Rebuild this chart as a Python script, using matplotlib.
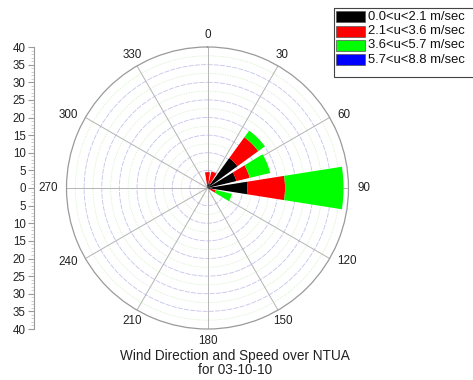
import numpy as np
import matplotlib
matplotlib.use("Agg")
import matplotlib.pyplot as plt
from matplotlib.patches import Rectangle

plt.rcParams['font.family'] = ['Liberation Sans', 'DejaVu Sans']

# Wind rose data: direction sectors (deg) and frequency per speed class
directions = [0.0, 22.5, 45.0, 67.5, 90.0, 112.5]
calm = [0.9, 1.4, 10.5, 8.4, 11.3, 0.9]          # 0.0<u<2.1
light = [3.6, 3.4, 7.3, 3.9, 10.7, 1.5]          # 2.1<u<3.6
moderate = [0.0, 0.0, 2.3, 6.0, 16.6, 4.7]       # 3.6<u<5.7
fresh = [0.0, 0.0, 0.0, 0.0, 0.0, 0.0]           # 5.7<u<8.8

class_labels = ['0.0<u<2.1 m/sec', '2.1<u<3.6 m/sec',
                '3.6<u<5.7 m/sec', '5.7<u<8.8 m/sec']
class_colors = ['#000000', '#ff0000', '#00ff00', '#0000ff']
angle_ticks = list(range(0, 360, 30))
radial_ticks = list(range(-40, 41, 5))

W, H = 473, 380
fig = plt.figure(figsize=(W / 100, H / 100), dpi=100)

# polar area geometry in pixels
cx, cy, R = 207.5, 188.0, 141.0
RMAX = 40.0
k = R / RMAX

ax = fig.add_axes([(cx - R) / W, (H - cy - R) / H, 2 * R / W, 2 * R / H],
                  projection='polar')
ax.set_theta_zero_location('N')
ax.set_theta_direction(-1)
ax.set_ylim(0, RMAX)
ax.grid(False)
ax.set_yticks([])
ax.spines['polar'].set_color('#9a9a9a')
ax.spines['polar'].set_linewidth(0.9)

# rings and spokes
th = np.linspace(0, 2 * np.pi, 400)
for r in np.arange(2.5, RMAX, 2.5):
    if r % 5 == 0:
        ax.plot(th, np.full_like(th, r), color='#c4c4ec', lw=0.6,
                ls=(0, (6, 1.5)), zorder=1)
    else:
        ax.plot(th, np.full_like(th, r), color='#d8f0cc', lw=0.6,
                ls=(0, (1.5, 1.5)), zorder=1)
for a in angle_ticks:
    ax.plot([np.deg2rad(a)] * 2, [0, RMAX], color='#b4b4b4', lw=0.7, zorder=1)

# theta ticks; labels placed just outside the rim
ax.set_xticks(np.deg2rad(angle_ticks), [''] * len(angle_ticks))
ax.set_xticks(np.deg2rad(np.arange(15, 360, 30)), minor=True)
ax.tick_params(axis='x', which='major', direction='out', length=4,
               color='#9a9a9a')
ax.tick_params(axis='x', which='minor', direction='in', length=3,
               color='#9a9a9a')
for a in angle_ticks:
    s, c = np.sin(np.deg2rad(a)), np.cos(np.deg2rad(a))
    ha = 'left' if s > 0.7 else ('right' if s < -0.7 else 'center')
    va = 'bottom' if c > 0.7 else ('top' if c < -0.7 else 'center')
    ax.annotate(str(a), xy=(np.deg2rad(a), RMAX),
                xytext=(9 * s, 6 * c), textcoords='offset pixels',
                ha=ha, va=va, fontsize=8.4, color='#222222',
                annotation_clip=False)

# stacked sector bars
theta = np.deg2rad(directions)
width = np.deg2rad(18.0)
bottom = np.zeros(len(directions))
for vals, col in zip([calm, light, moderate, fresh], class_colors):
    v = np.asarray(vals)
    ax.bar(theta, v, width=width, bottom=bottom, color=col,
           edgecolor='none', zorder=3)
    bottom = bottom + v

# linear radial scale on the left
axL = fig.add_axes([34 / W, (H - cy - 40 * k) / H, 0.0001, 80 * k / H])
axL.set_ylim(-40, 40)
axL.set_xticks([])
axL.set_yticks(radial_ticks, [str(abs(t)) for t in radial_ticks])
axL.set_yticks(np.arange(-40, 41, 1), minor=True)
axL.tick_params(axis='y', which='major', direction='out', length=4,
                color='#9a9a9a', labelsize=8.3, labelcolor='#222222', pad=2)
axL.tick_params(axis='y', which='minor', direction='out', length=2,
                color='#c8c8c8')
for s in ['top', 'right', 'bottom']:
    axL.spines[s].set_visible(False)
axL.spines['left'].set_color('#9a9a9a')
axL.spines['left'].set_linewidth(0.8)
axL.patch.set_visible(False)

# legend box
lx, ly, lw_, lh = 333, 7, 145, 70
axG = fig.add_axes([lx / W, (H - ly - lh) / H, lw_ / W, lh / H])
axG.set_xlim(0, lw_)
axG.set_ylim(lh, 0)
axG.axis('off')
axG.add_patch(Rectangle((0.5, 0.5), lw_ + 5, lh - 1, fill=False,
                        edgecolor='#444444', lw=0.8, clip_on=False))
for i, (lab, col) in enumerate(zip(class_labels, class_colors)):
    yc = 9.7 + i * 14.3
    axG.add_patch(Rectangle((3, yc - 5.5), 29, 11, facecolor=col,
                            edgecolor='#555555', lw=0.5))
    axG.text(35, yc, lab, ha='left', va='center', fontsize=9.4,
             color='#111111')

fig.text(235 / W, 1 - 356 / H, 'Wind Direction and Speed over NTUA',
         ha='center', va='center', fontsize=9.8, color='#222222')
fig.text(235 / W, 1 - 370.5 / H, 'for 03-10-10',
         ha='center', va='center', fontsize=9.8, color='#222222')

fig.savefig('out.png', dpi=100)
